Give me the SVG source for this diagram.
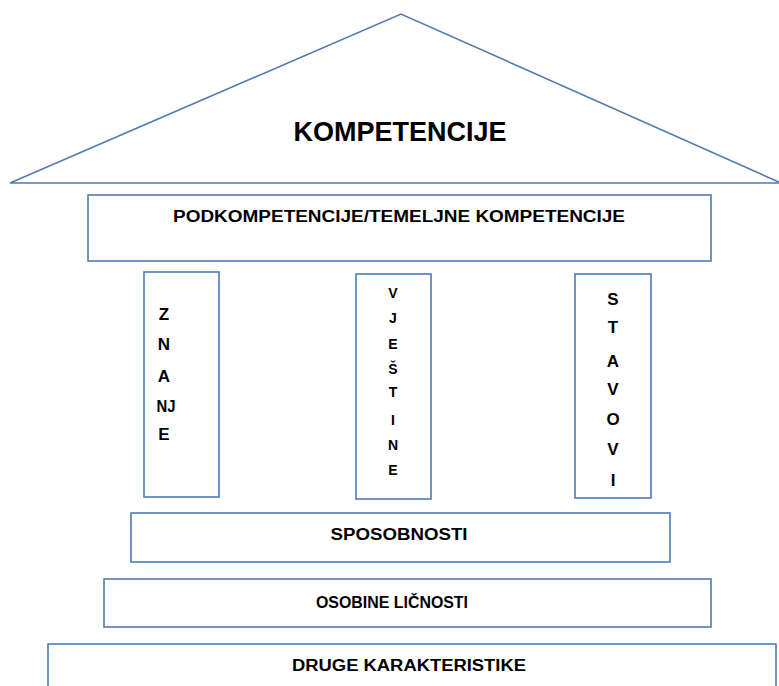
<svg xmlns="http://www.w3.org/2000/svg" width="779" height="686" viewBox="0 0 779 686">
<style>
.box{fill:#fff;stroke:#4f7bb3;stroke-width:1.6}
.t{font-family:"Liberation Sans",Arial,sans-serif;font-weight:bold;fill:#000;text-anchor:middle}
.s{font-size:16px}
.p{font-size:17px}
.v{font-size:14px}
</style>
<rect width="779" height="686" fill="#fff"/>
<g id="roof">
<polygon class="box" points="10,183 401,14 781,183"/>
<text class="t" x="400" y="141" font-size="28" textLength="213" lengthAdjust="spacingAndGlyphs">KOMPETENCIJE</text>
</g>
<g id="podkompetencije">
<rect class="box" x="88" y="195" width="623" height="66"/>
<text class="t s" x="399" y="222" textLength="452" lengthAdjust="spacingAndGlyphs">PODKOMPETENCIJE/TEMELJNE KOMPETENCIJE</text>
</g>
<g id="znanje">
<rect class="box" x="144" y="272" width="75" height="225"/>
<text class="t p" x="164" y="320">Z</text>
<text class="t p" x="164" y="350">N</text>
<text class="t p" x="164" y="382">A</text>
<text class="t p" x="166" y="412" textLength="19" lengthAdjust="spacingAndGlyphs">NJ</text>
<text class="t p" x="164" y="440">E</text>
</g>
<g id="vjestine">
<rect class="box" x="356" y="274" width="75" height="225"/>
<text class="t v" x="393" y="298">V</text>
<text class="t v" x="393" y="323">J</text>
<text class="t v" x="393" y="349">E</text>
<text class="t v" x="393" y="374">Š</text>
<text class="t v" x="393" y="397">T</text>
<text class="t v" x="393" y="425">I</text>
<text class="t v" x="393" y="450">N</text>
<text class="t v" x="393" y="475">E</text>
</g>
<g id="stavovi">
<rect class="box" x="575" y="274" width="76" height="224"/>
<text class="t p" x="613" y="305">S</text>
<text class="t p" x="613" y="333">T</text>
<text class="t p" x="613" y="367">A</text>
<text class="t p" x="613" y="395">V</text>
<text class="t p" x="613" y="425">O</text>
<text class="t p" x="613" y="455">V</text>
<text class="t p" x="613" y="486">I</text>
</g>
<g id="sposobnosti">
<rect class="box" x="131" y="513" width="539" height="49"/>
<text class="t s" x="399" y="540" textLength="137" lengthAdjust="spacingAndGlyphs">SPOSOBNOSTI</text>
</g>
<g id="osobine">
<rect class="box" x="104" y="579" width="607" height="48"/>
<text class="t s" x="392" y="608" textLength="152" lengthAdjust="spacingAndGlyphs">OSOBINE LIČNOSTI</text>
</g>
<g id="druge">
<rect class="box" x="48" y="644" width="728" height="50"/>
<text class="t s" x="409" y="671" textLength="234" lengthAdjust="spacingAndGlyphs">DRUGE KARAKTERISTIKE</text>
</g>
<g id="connectors"/>
</svg>
